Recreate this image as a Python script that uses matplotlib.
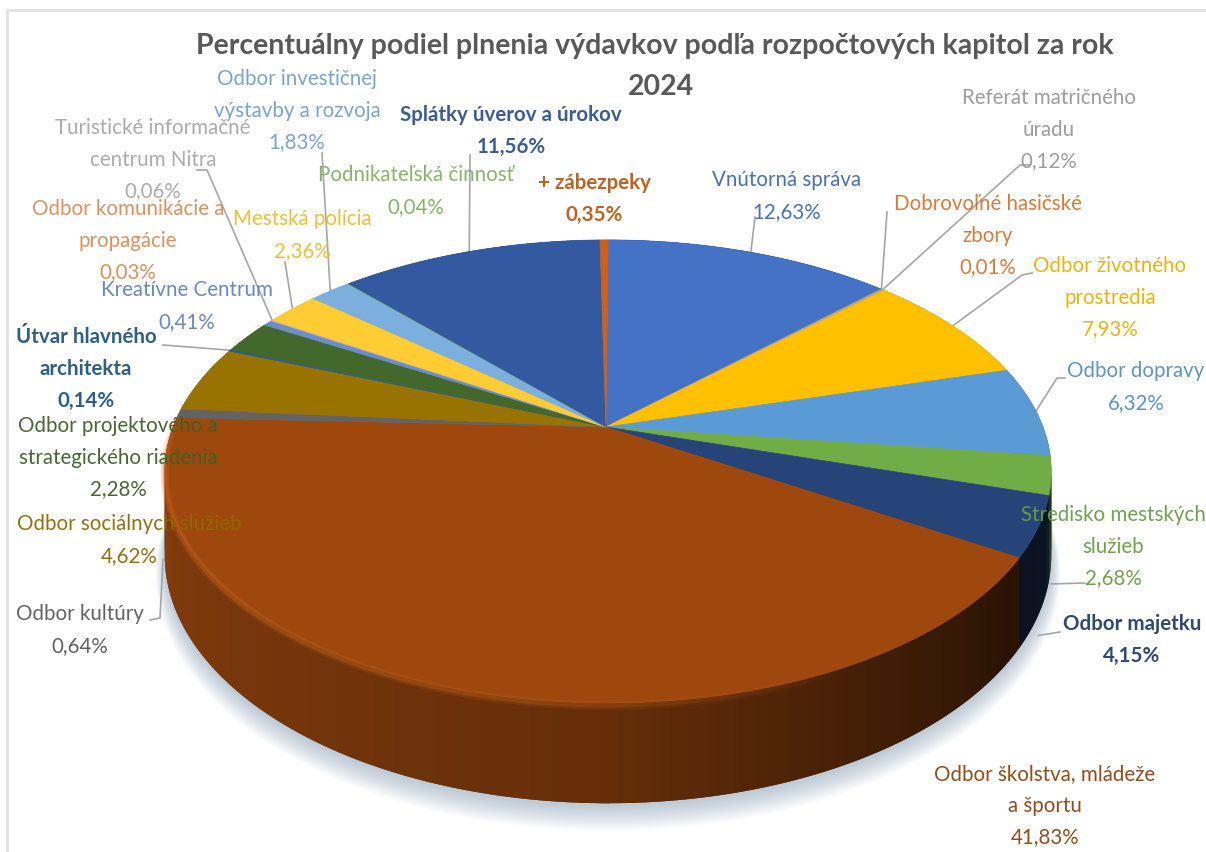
# External Dependencies
import numpy as np
import matplotlib as mpl
mpl.use('Agg')
import matplotlib.pyplot as plt
from matplotlib.collections import LineCollection

plt.rcParams['font.family'] = ['Lato', 'DejaVu Sans']

# Chart values, clockwise from 12 o'clock
chapters = [
    'Vnútorná správa', 'Dobrovoľné hasičské\nzbory', 'Referát matričného\núradu',
    'Odbor životného\nprostredia', 'Odbor dopravy', 'Stredisko mestských\nslužieb',
    'Odbor majetku', 'Odbor školstva, mládeže\na športu', 'Odbor kultúry',
    'Odbor sociálnych služieb', 'Útvar hlavného\narchitekta',
    'Odbor projektového a\nstrategického riadenia', 'Kreatívne Centrum',
    'Odbor komunikácie a\npropagácie', 'Turistické informačné\ncentrum Nitra',
    'Mestská polícia', 'Odbor investičnej\nvýstavby a rozvoja',
    'Podnikateľská činnosť', 'Splátky úverov a úrokov', '+ zábezpeky',
]
shares = [12.63, 0.01, 0.12, 7.93, 6.32, 2.68, 4.15, 41.83, 0.64, 4.62,
          0.14, 2.28, 0.41, 0.03, 0.06, 2.36, 1.83, 0.04, 11.56, 0.35]
colors = ['#4472C4', '#ED7D31', '#A5A5A5', '#FFC000', '#5B9BD5', '#70AD47',
          '#264478', '#9E480E', '#636363', '#997300', '#255E91', '#43682B',
          '#698ED0', '#F1975A', '#B7B7B7', '#FFCD33', '#7CAFDD', '#8CC168',
          '#335AA1', '#D26012']
title_lines = ['Percentuálny podiel plnenia výdavkov podľa rozpočtových kapitol za rok', '2024']

# Label centres in pixels
label_pos = [
    (787, 196), (988, 236), (1049, 130), (1110, 298), (1136, 387), (1113, 547),
    (1132, 640), (1045, 806), (80, 630), (129, 540), (86, 369), (118, 458),
    (187, 306), (128, 241), (153, 160), (302, 235), (297, 111), (416, 191),
    (511, 131), (594, 199),
]
bold_labels = [6, 10, 18, 19]

# Leader line elbows in pixels and how far below the rim they end
leaders = {
    0: ([(755, 217)], 0),
    1: ([(887, 212)], 0),
    2: ([(1030, 165), (1020, 165)], 0),
    3: ([(1032, 273), (1022, 275)], 0),
    4: ([(1065, 378), (1057, 378)], 0),
    5: ([(1085, 583)], 104),
    6: ([(1060, 632)], 100),
    8: ([(150, 620), (160, 618), (163, 560)], 143),
    10: ([(163, 345)], 0),
    14: ([(197, 170), (207, 170)], 0),
    15: ([(285, 262)], 0),
    16: ([(322, 153)], 0),
    18: ([(470, 155)], 0),
}

# Projection of the pie disc onto the image
CX, CY = 608, 427
APEX_X = 606
RX, RY = 435, 223
PERSP = 0.192
WALL = 81


def project(theta, drop=0.0, scale=1.0):
    # theta in degrees, clockwise from the far side of the disc
    t = np.radians(theta)
    w = 1 + PERSP * np.cos(t) * scale
    x = CX + RX * scale * np.sin(t) / w
    y = CY - RY * scale * np.cos(t) / w + drop / w
    return x, y


def shade(color, factor):
    return tuple(np.array(mpl.colors.to_rgb(color)) * factor)


def wall_factor(theta):
    return np.interp(theta, [90, 125, 150, 180, 220, 270, 300],
                     [0.34, 0.27, 0.42, 0.64, 0.74, 0.86, 0.86])


def draw_shadow(ax, th):
    for i in range(14):
        x, y = project(th, WALL + 3 + i, 1 + 0.0015 * i)
        ax.fill(x, y, color='#5f7f9f', alpha=0.03, lw=0, zorder=1)


def draw_wall(ax, edges):
    quads = []
    for i, color in enumerate(colors):
        for a in np.arange(edges[i], edges[i + 1], 0.5):
            quads.append((a, min(a + 0.5, edges[i + 1]), color))
    # Paint clockwise on each side towards the front, each quad overlapping the next
    quads.sort(key=lambda q: np.cos(np.radians(q[0])))
    quads = quads[::-1]
    for a, b, color in quads:
        # Overlap by half a step so no seams show between the quads
        pad = 0.5 if a < 180 else -0.5
        th = np.array([a, b + pad]) if a < 180 else np.array([a + pad, b])
        x0, y0 = project(th)
        x1, y1 = project(th[::-1], WALL)
        c = shade(color, wall_factor((a + b) / 2))
        ax.fill(np.r_[x0, x1], np.r_[y0, y1], color=c, lw=0, zorder=3)


def draw_top(ax, edges):
    for i, color in enumerate(colors):
        th = np.linspace(edges[i], edges[i + 1], max(int(shares[i] * 4), 2))
        x, y = project(th)
        ax.fill(np.r_[APEX_X, x], np.r_[CY, y], color=color, lw=0.5, zorder=4)


def draw_rim(ax):
    # Lit bevel along the front edge of the disc
    th = np.linspace(150, 274, 125)
    x, y = project(th, 2)
    pts = np.column_stack([x, y])
    segs = np.stack([pts[:-1], pts[1:]], axis=1)
    fade = np.interp(th[:-1], [150, 190, 262, 274], [0, 0.45, 0.6, 0])
    for lw, k in [(6, 0.35), (3, 0.6)]:
        rgba = np.zeros((len(segs), 4))
        rgba[:, :3] = mpl.colors.to_rgb('#D0691C')
        rgba[:, 3] = fade * k
        ax.add_collection(LineCollection(segs, colors=rgba, linewidths=lw,
                                         zorder=5, capstyle='butt'))


def draw_leaders(ax, mids):
    for i, (elbows, drop) in leaders.items():
        ex, ey = project(mids[i], drop)
        xs = [p[0] for p in elbows] + [ex]
        ys = [p[1] for p in elbows] + [ey]
        ax.plot(xs, ys, color='#a6a6a6', lw=1.2, zorder=2)


def draw_labels(ax):
    for i, name in enumerate(chapters):
        text = name + '\n' + f'{shares[i]:.2f}'.replace('.', ',') + '%'
        x, y = label_pos[i]
        ax.text(x, y, text, color=shade(colors[i], 0.92), ha='center', va='center',
                fontsize=14.8, linespacing=1.72, zorder=6,
                fontweight='bold' if i in bold_labels else 'normal',
                alpha=0.95, clip_on=True)


def main():
    fig = plt.figure(figsize=(12.06, 8.52), dpi=100)
    ax = fig.add_axes([0, 0, 1, 1])
    ax.set_xlim(0, 1206)
    ax.set_ylim(852, 0)
    ax.axis('off')

    # Picture frame
    ax.plot([7, 7, 1206], [852, 10, 10], color='#e2e2e2', lw=2, zorder=0)

    edges = np.r_[0, np.cumsum(shares)] / np.sum(shares) * 360
    mids = (edges[:-1] + edges[1:]) / 2

    draw_shadow(ax, np.linspace(0, 360, 361))
    draw_leaders(ax, mids)
    draw_wall(ax, edges)
    draw_top(ax, edges)
    draw_rim(ax)
    draw_labels(ax)

    for line, x, y in zip(title_lines, [655, 661], [46, 87]):
        ax.text(x, y, line, color='#595959', ha='center', va='center',
                fontsize=20.5, fontweight='bold', zorder=6)

    fig.savefig('out.png', dpi=100)


if __name__ == '__main__':
    main()
